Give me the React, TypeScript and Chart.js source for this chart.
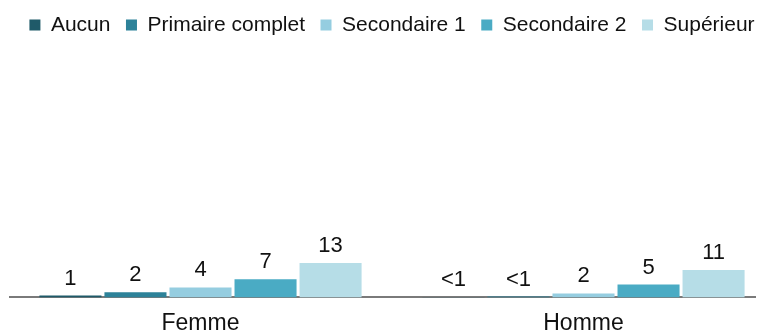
import React, { useEffect, useRef } from "react";
import { Chart, registerables } from "chart.js";

Chart.register(...registerables);

const categories = ["Femme", "Homme"];
const seriesNames = ["Aucun", "Primaire complet", "Secondaire 1", "Secondaire 2", "Supérieur"];
const aucun = [0.7, 0.1];
const primaire = [2.0, 0.3];
const secondaire1 = [3.8, 1.5];
const secondaire2 = [7.0, 4.9];
const superieur = [13.2, 10.5];
const aucunLabels = ["1", "<1"];
const primaireLabels = ["2", "<1"];
const secondaire1Labels = ["4", "2"];
const secondaire2Labels = ["7", "5"];
const superieurLabels = ["13", "11"];
const colors = ["#1f5a69", "#2d8299", "#95cde0", "#4aabc4", "#b6dde7"];
const Y_MAX = 96.5;

const FONT = '"Liberation Sans", Arial, sans-serif';

const valueLabelPlugin = {
  id: "valueLabels",
  afterDatasetsDraw(chart: any) {
    const ctx = chart.ctx;
    ctx.save();
    ctx.font = `22px ${FONT}`;
    ctx.fillStyle = "#111111";
    ctx.textAlign = "center";
    ctx.textBaseline = "alphabetic";
    chart.data.datasets.forEach((ds: any, i: number) => {
      const meta = chart.getDatasetMeta(i);
      meta.data.forEach((el: any, j: number) => {
        ctx.fillText(ds.valueLabels[j], el.x, el.y - 11);
      });
    });
    ctx.restore();
  },
};

export default function App() {
  const ref = useRef<HTMLCanvasElement>(null);
  useEffect(() => {
    const values = [aucun, primaire, secondaire1, secondaire2, superieur];
    const labels = [aucunLabels, primaireLabels, secondaire1Labels, secondaire2Labels, superieurLabels];
    const chart = new Chart(ref.current!, {
      type: "bar",
      data: {
        labels: categories,
        datasets: seriesNames.map((name, i) => ({
          label: name,
          data: values[i],
          valueLabels: labels[i],
          backgroundColor: colors[i],
          borderWidth: 0,
          categoryPercentage: 0.849,
          barPercentage: 0.954,
        })) as any,
      },
      options: {
        animation: false,
        responsive: false,
        devicePixelRatio: 1,
        layout: { padding: 0 },
        plugins: {
          legend: {
            display: true,
            position: "top",
            labels: {
              boxWidth: 11,
              boxHeight: 11,
              padding: 15.5,
              color: "#111111",
              font: { family: FONT, size: 21 },
            },
          },
          tooltip: { enabled: false },
        },
        scales: {
          x: {
            grid: { display: false, drawTicks: false },
            border: { display: true, color: "#7a7a7a", width: 2 },
            ticks: { color: "#111111", font: { family: FONT, size: 23 }, padding: 12 },
          },
          y: { display: false, min: 0, max: Y_MAX },
        },
      },
      plugins: [valueLabelPlugin],
    });
    return () => chart.destroy();
  }, []);
  return (
    <div style={{ width: 756, overflow: "hidden", marginTop: -9, marginLeft: 1 }}>
      <canvas ref={ref} width={766} height={350} style={{ display: "block" }} />
    </div>
  );
}
